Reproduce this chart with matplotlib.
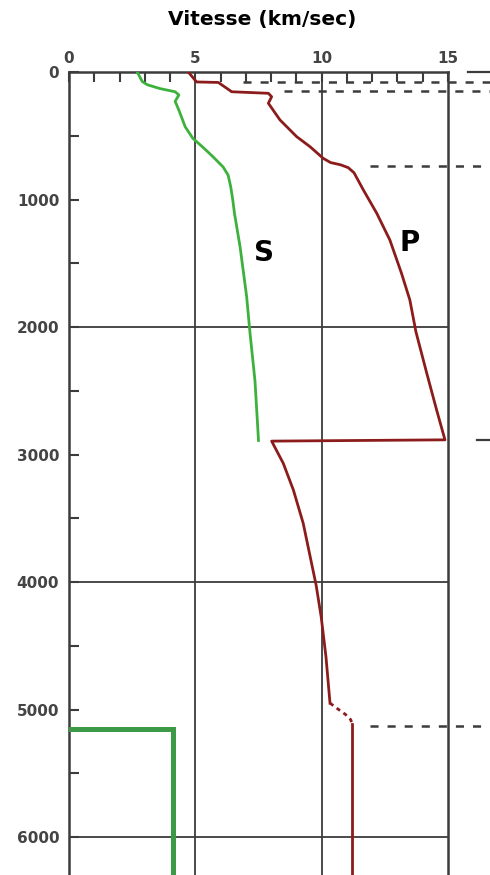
import numpy as np
import matplotlib
matplotlib.use('Agg')
import matplotlib.pyplot as plt

plt.rcParams['lines.scale_dashes'] = False

# --- vitesse des ondes S (manteau), profondeur en km / vitesse en km/s
s_depth = [0, 75, 100, 130, 155, 180, 230, 300, 430, 520, 590, 665, 745, 810,
           900, 1000, 1110, 1370, 1760, 2040, 2420, 2890]
s_vel = [2.7, 2.9, 3.1, 3.6, 4.2, 4.35, 4.2, 4.35, 4.6, 4.9, 5.3, 5.7, 6.1, 6.3,
         6.4, 6.48, 6.55, 6.77, 7.03, 7.16, 7.36, 7.5]
# graine (noyau interne)
s_core_depth = [5150, 5150, 6371]
s_core_vel = [0.0, 4.1, 4.1]

# --- ondes P
p_depth = [0, 78, 82, 155, 167, 194, 245, 376, 507, 586, 677, 710, 728, 750,
           790, 925, 1108, 1318, 1579, 1788, 2037, 2363, 2651, 2885]
p_vel = [4.72, 5.05, 5.91, 6.44, 7.89, 8.02, 7.89, 8.35, 9.01, 9.54, 10.06,
         10.35, 10.75, 11.05, 11.28, 11.65, 12.18, 12.7, 13.16, 13.49, 13.73,
         14.16, 14.55, 14.88]
p_outer_depth = [2895, 3069, 3278, 3540, 3853, 4024, 4272, 4586, 4950]
p_outer_vel = [8.02, 8.48, 8.88, 9.27, 9.6, 9.78, 9.98, 10.17, 10.33]
p_trans_depth = [4950, 4990, 5040, 5080, 5110]
p_trans_vel = [10.33, 10.6, 10.95, 11.15, 11.2]
p_inner_depth = [5110, 6371]
p_inner_vel = [11.2, 11.2]

# discontinuites marquees a droite
disc_depth = [78, 148, 735, 5130]
disc_start = [6.9, 8.5, 11.9, 11.9]
solid_depth = [0, 2890]
solid_start = [15.8, 16.15]

red = '#8c1c1c'
green = '#3cb23c'
dark = '#3c3c3c'

fig = plt.figure(figsize=(4.9, 8.75), dpi=100)
ax = fig.add_axes([69/490, 0, 379/490, 803/875])
ax.set_xlim(0, 15)
ax.set_ylim(6298, 0)

# grille
for v in [5, 10]:
    ax.axvline(v, color=dark, lw=1.3, zorder=1)
for d in [2000, 4000, 6000]:
    ax.axhline(d, color=dark, lw=1.3, zorder=1)

# courbes
ax.plot(s_vel, s_depth, color=green, lw=2.0, zorder=3, solid_joinstyle='round')
ax.plot(s_core_vel, s_core_depth, color='#3c9a46', lw=3.6, zorder=3,
        solid_joinstyle='miter')
ax.plot(p_vel + p_outer_vel, p_depth + p_outer_depth, color=red, lw=2.0,
        zorder=3, solid_joinstyle='round')
ax.plot(p_trans_vel, p_trans_depth, color=red, lw=2.0, ls=(0, (3, 3)), zorder=3)
ax.plot(p_inner_vel, p_inner_depth, color=red, lw=2.0, zorder=3)

# limites a droite
for d, v0 in zip(disc_depth, disc_start):
    ax.plot([v0, 16.7], [d, d], color=dark, lw=1.8, ls=(0, (5.8, 6.5)),
            clip_on=False, zorder=2)
for d, v0 in zip(solid_depth, solid_start):
    ax.plot([v0, 16.7], [d, d], color=dark, lw=1.6, clip_on=False, zorder=2)

ax.text(7.72, 1422, 'S', fontsize=20, fontweight='bold', ha='center', va='center')
ax.text(13.47, 1339, 'P', fontsize=20, fontweight='bold', ha='center', va='center')

# axes
ax.xaxis.tick_top()
ax.set_xticks([0, 5, 10, 15])
ax.set_xticks(np.arange(0, 16, 1), minor=True)
ax.set_yticks(np.arange(0, 6001, 1000))
ax.set_yticks(np.arange(0, 6001, 500), minor=True)
ax.tick_params(which='both', direction='in', length=7, width=1.5, color=dark,
               top=True, bottom=False, left=True, right=False)
ax.tick_params(axis='x', which='major', pad=4, labelsize=11, labelcolor='#444')
ax.tick_params(axis='y', which='major', pad=7, labelsize=11, labelcolor='#444')
for lab in ax.get_xticklabels() + ax.get_yticklabels():
    lab.set_fontweight('bold')

ax.spines['bottom'].set_visible(False)
for s in ['top', 'left', 'right']:
    ax.spines[s].set_color(dark)
    ax.spines[s].set_linewidth(1.8)

fig.text(262/490, 1 - 20/875, 'Vitesse (km/sec)', fontsize=14.5,
         fontweight='bold', ha='center', va='center')

fig.savefig('out.png', dpi=100)
